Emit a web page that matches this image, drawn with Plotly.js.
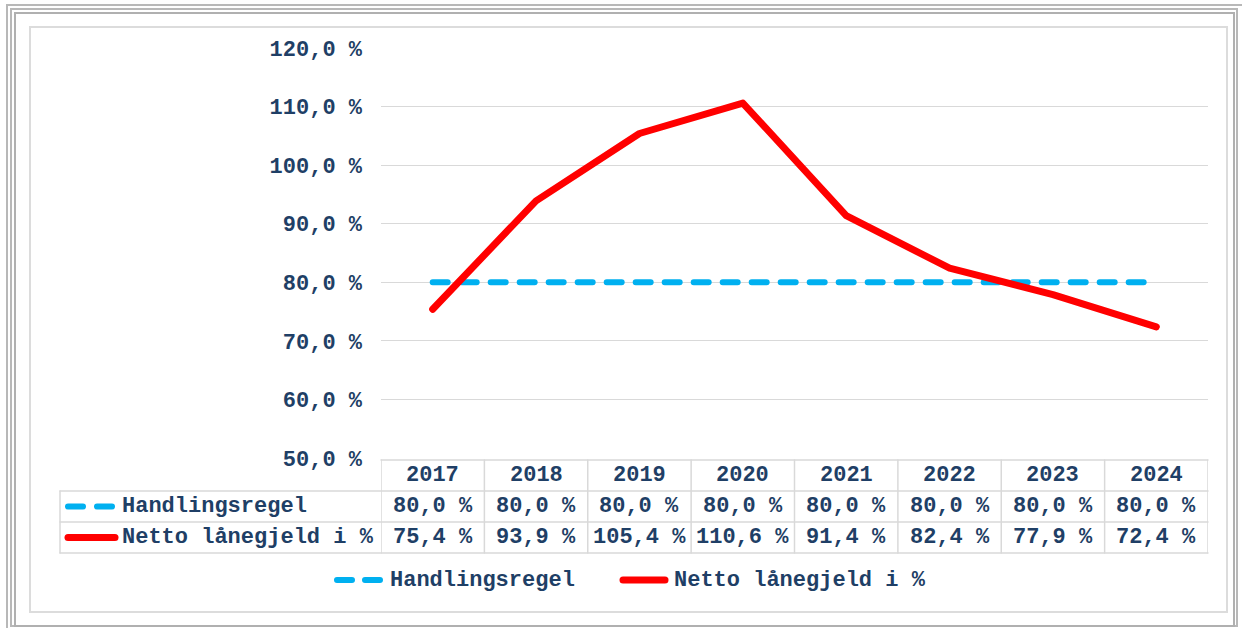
<!DOCTYPE html>
<html>
<head>
<meta charset="utf-8">
<script src="https://cdn.plot.ly/plotly-3.0.1.min.js"></script>
<style>
  html, body { margin: 0; padding: 0; background: #ffffff; }
  #wrap { position: relative; width: 1242px; height: 628px; overflow: hidden; background: #fff; }
  .frame { position: absolute; box-sizing: border-box; }
  #chart { position: absolute; left: 0; top: 0; width: 1242px; height: 628px; }
  .js-plotly-plot .shapelayer path,
  .js-plotly-plot path.js-line { stroke-linecap: round; stroke-linejoin: round; }
</style>
</head>
<body>
<div id="wrap">
  <div class="frame" style="left:6px;top:4px;width:1240px;height:630px;border:2px solid #b8b8b8;"></div>
  <div class="frame" style="left:10px;top:8px;width:1228px;height:619px;border:2px solid #b8b8b8;"></div>
  <div class="frame" style="left:14px;top:12px;width:1221px;height:615px;border:2px solid #b0b0b0;"></div>
  <div class="frame" style="left:29px;top:26px;width:1199px;height:587px;border:2px solid #dcdcdc;"></div>
  <div id="chart"></div>
</div>
<script>
// ---------------- data ----------------
const years = ['2017', '2018', '2019', '2020', '2021', '2022', '2023', '2024'];
const handlingsregel = [80.0, 80.0, 80.0, 80.0, 80.0, 80.0, 80.0, 80.0];
const nettoLanegjeld = [75.4, 93.9, 105.4, 110.6, 91.4, 82.4, 77.9, 72.4];
const seriesNames = ['Handlingsregel', 'Netto lånegjeld i %'];
const yTickValues = [50, 60, 70, 80, 90, 100, 110, 120];

// ---------------- style / layout helpers ----------------
const W = 1242, H = 628;
const M = { l: 381, r: 34, t: 48, b: 170 };
const plotW = W - M.l - M.r, plotH = H - M.t - M.b;
const px2x = p => (p - M.l) / plotW;          // pixel -> paper x
const px2y = p => (H - M.b - p) / plotH;      // pixel -> paper y

const TXT = '#1f3f66';
const FONT = { family: '"Liberation Mono", "Courier New", monospace', size: 22, color: TXT, weight: 'bold' };
const GRID = '#d9d9d9';
const BLUE = '#00b0f0';
const RED = '#ff0000';

const fmt = v => v.toFixed(1).replace('.', ',') + ' %';

// ---------------- traces ----------------
const traces = [
  {
    x: years, y: handlingsregel, name: seriesNames[0], type: 'scatter', mode: 'lines',
    line: { color: BLUE, width: 6, dash: '15px,14px' }
  },
  {
    x: years, y: nettoLanegjeld, name: seriesNames[1], type: 'scatter', mode: 'lines',
    line: { color: RED, width: 7 }
  }
];

// ---------------- data table (shapes + annotations) ----------------
const rowTop = 460, rowH = 31;
const tableLeft = 60;
const shapes = [];
const annotations = [];
const tl = { color: GRID, width: 1.5 };

// horizontal lines
shapes.push({ type: 'line', xref: 'paper', yref: 'paper', x0: 0, x1: 1, y0: px2y(rowTop), y1: px2y(rowTop), line: tl });
for (let r = 1; r <= 3; r++) {
  const yy = px2y(rowTop + r * rowH);
  shapes.push({ type: 'line', xref: 'paper', yref: 'paper', x0: px2x(tableLeft), x1: 1, y0: yy, y1: yy, line: tl });
}
// vertical lines at category boundaries
for (let i = 0; i <= years.length; i++) {
  shapes.push({ type: 'line', xref: 'x', yref: 'paper', x0: i - 0.5, x1: i - 0.5,
    y0: px2y(rowTop), y1: px2y(rowTop + 3 * rowH), line: tl });
}
shapes.push({ type: 'line', xref: 'paper', yref: 'paper', x0: px2x(tableLeft), x1: px2x(tableLeft),
  y0: px2y(rowTop + rowH), y1: px2y(rowTop + 3 * rowH), line: tl });

// legend keys inside the table
const r1c = px2y(rowTop + rowH * 1.5), r2c = px2y(rowTop + rowH * 2.5), hc = px2y(rowTop + rowH * 0.5);
shapes.push({ type: 'line', xref: 'paper', yref: 'paper', x0: px2x(68), x1: px2x(112), y0: r1c, y1: r1c,
  line: { color: BLUE, width: 6, dash: '15px,14px' } });
shapes.push({ type: 'line', xref: 'paper', yref: 'paper', x0: px2x(68), x1: px2x(115), y0: r2c, y1: r2c,
  line: { color: RED, width: 7 } });

// row labels
annotations.push({ xref: 'paper', yref: 'paper', x: px2x(120), y: r1c, xanchor: 'left', yanchor: 'middle',
  text: seriesNames[0], showarrow: false, font: FONT });
annotations.push({ xref: 'paper', yref: 'paper', x: px2x(120), y: r2c, xanchor: 'left', yanchor: 'middle',
  text: seriesNames[1], showarrow: false, font: FONT });

// header + values (x = category index on the category axis)
years.forEach((yr, i) => {
  annotations.push({ xref: 'x', yref: 'paper', x: i, y: hc, xanchor: 'center', yanchor: 'middle',
    text: yr, showarrow: false, font: FONT });
  annotations.push({ xref: 'x', yref: 'paper', x: i, y: r1c, xanchor: 'center', yanchor: 'middle',
    text: fmt(handlingsregel[i]), showarrow: false, font: FONT });
  annotations.push({ xref: 'x', yref: 'paper', x: i, y: r2c, xanchor: 'center', yanchor: 'middle',
    text: fmt(nettoLanegjeld[i]), showarrow: false, font: FONT });
});

// bottom legend (drawn with shapes + annotations to match the original key length)
const legY = px2y(580);
shapes.push({ type: 'line', xref: 'paper', yref: 'paper', x0: px2x(337), x1: px2x(380), y0: legY, y1: legY,
  line: { color: BLUE, width: 6, dash: '15px,13px' } });
annotations.push({ xref: 'paper', yref: 'paper', x: px2x(388), y: legY, xanchor: 'left', yanchor: 'middle',
  text: seriesNames[0], showarrow: false, font: FONT });
shapes.push({ type: 'line', xref: 'paper', yref: 'paper', x0: px2x(623), x1: px2x(665), y0: legY, y1: legY,
  line: { color: RED, width: 7 } });
annotations.push({ xref: 'paper', yref: 'paper', x: px2x(672), y: legY, xanchor: 'left', yanchor: 'middle',
  text: seriesNames[1], showarrow: false, font: FONT });

// ---------------- layout ----------------
const layout = {
  width: W, height: H,
  margin: M,
  paper_bgcolor: 'rgba(0,0,0,0)',
  plot_bgcolor: 'rgba(0,0,0,0)',
  font: FONT,
  showlegend: false,
  xaxis: {
    type: 'category', range: [-0.5, years.length - 0.5],
    showgrid: false, zeroline: false, showline: false, showticklabels: false, ticks: ''
  },
  yaxis: {
    range: [50, 120], tickvals: yTickValues, ticktext: yTickValues.map(fmt),
    showgrid: true, gridcolor: GRID, gridwidth: 1.2, zeroline: false, showline: false,
    ticks: '', ticklabelstandoff: 18, tickfont: FONT
  },
  shapes: shapes,
  annotations: annotations
};

Plotly.newPlot('chart', traces, layout, { staticPlot: true, displayModeBar: false });
</script>
</body>
</html>
